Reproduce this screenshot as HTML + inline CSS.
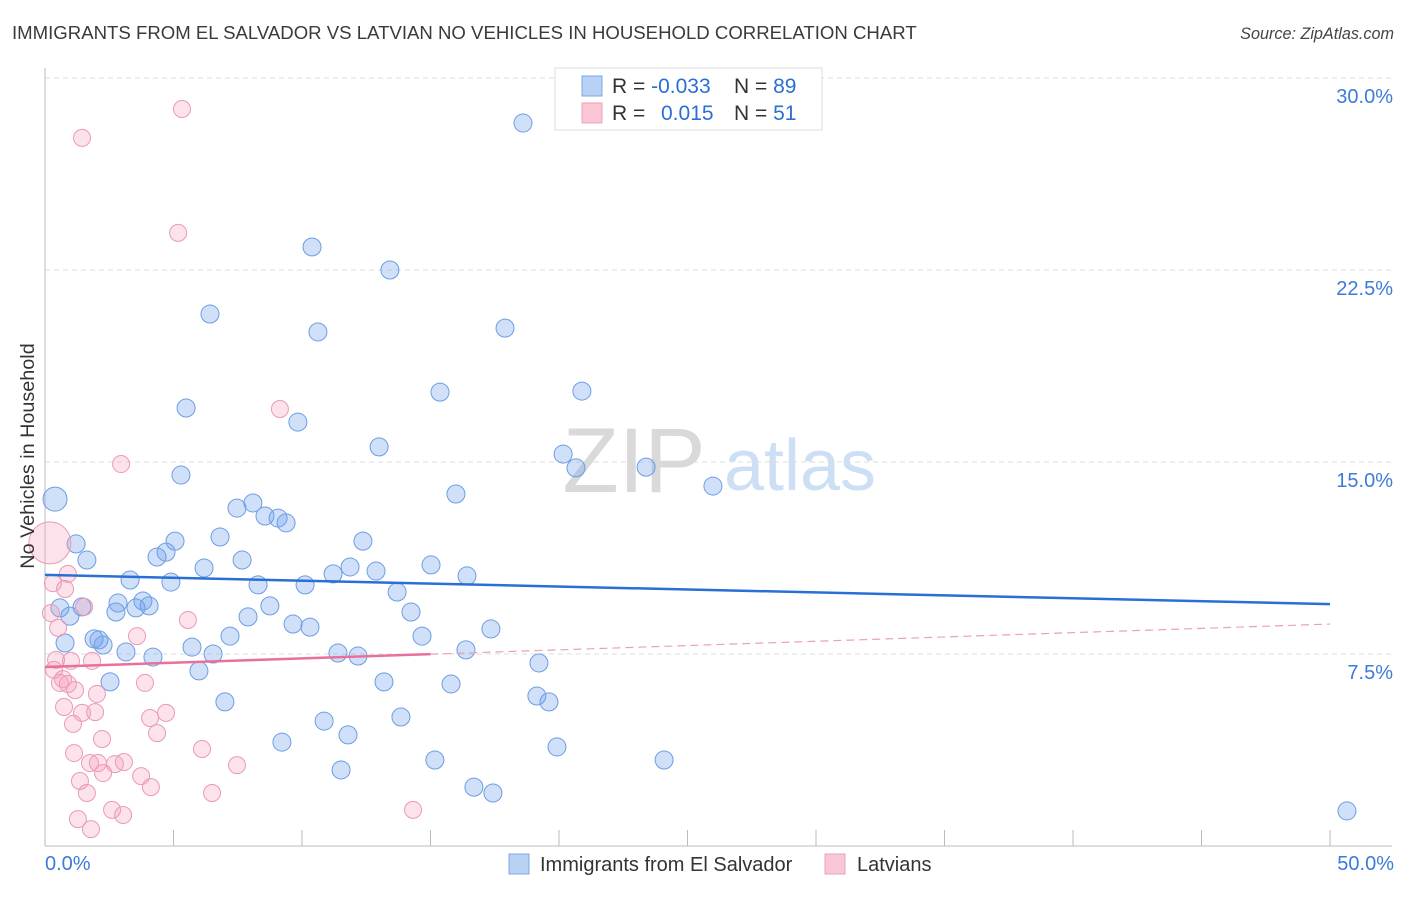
<!DOCTYPE html>
<html><head><meta charset="utf-8"><style>
body{margin:0;background:#fff;font-family:"Liberation Sans",sans-serif;}
svg text{font-family:"Liberation Sans",sans-serif;}
</style></head><body>
<svg id="chart" width="1406" height="892" xmlns="http://www.w3.org/2000/svg">
<text x="12" y="39" font-size="18.6" fill="#3a3a3a">IMMIGRANTS FROM EL SALVADOR VS LATVIAN NO VEHICLES IN HOUSEHOLD CORRELATION CHART</text>
<text x="1394" y="39" font-size="16.2" fill="#444" text-anchor="end" font-style="italic">Source: ZipAtlas.com</text>
<g>
<text x="634" y="492" font-size="92" fill="#d9d9d9" font-family="Liberation Serif" text-anchor="middle">ZIP</text>
<text x="800" y="490" font-size="72" fill="#cddff5" text-anchor="middle">atlas</text>
</g>
<g id="grid"></g>
<g id="axes"></g>
<g id="pts"></g>
<g id="trends"></g>
<text transform="translate(34,456) rotate(-90)" font-size="19.8" fill="#333" text-anchor="middle">No Vehicles in Household</text>
<g>
<rect x="555" y="68" width="267" height="62" fill="#fff" stroke="#ddd"/>
<rect x="582" y="76" width="20" height="20" fill="#b8d2f5" stroke="#7fa8e4"/>
<rect x="582" y="103" width="20" height="20" fill="#f9c6d5" stroke="#eca0b8"/>
<text x="612" y="93" font-size="21" fill="#333">R = <tspan fill="#2a6fd6">-0.033</tspan></text>
<text x="734" y="93" font-size="21" fill="#333">N = <tspan fill="#2a6fd6">89</tspan></text>
<text x="612" y="120" font-size="21" fill="#333">R = </text>
<text x="661" y="120" font-size="21" fill="#2a6fd6">0.015</text>
<text x="734" y="120" font-size="21" fill="#333">N = <tspan fill="#2a6fd6"> 51</tspan></text>
</g>
<g>
<rect x="509" y="854" width="20" height="20" fill="#b8d2f5" stroke="#7fa8e4"/>
<text x="540" y="871" font-size="20" fill="#333">Immigrants from El Salvador</text>
<rect x="825" y="854" width="20" height="20" fill="#f9c6d5" stroke="#eca0b8"/>
<text x="857" y="871" font-size="20" fill="#333">Latvians</text>
</g>
</svg>
<script>
const yTicks=[7.5,15,22.5,30];
const yTickLabels=["7.5%","15.0%","22.5%","30.0%"];
const xTickLabels=["0.0%","50.0%"];
const blueX=[18.6,10.39,13.42,6.42,17.9,10.62,20.89,15.37,5.49,9.84,13.0,20.16,20.66,23.39,5.29,25.99,15.99,0.39,8.09,7.47,8.56,9.07,9.38,6.81,5.06,12.37,1.21,4.71,4.36,1.63,7.67,15.02,6.19,11.87,12.88,11.21,16.42,3.31,4.9,8.29,10.12,13.7,2.84,3.81,4.05,0.58,1.44,0.97,2.76,3.54,8.75,14.24,7.9,9.65,10.31,17.35,7.2,14.67,1.91,2.1,0.78,2.26,5.72,16.38,3.15,6.54,11.4,12.18,4.2,19.22,5.99,2.53,13.19,15.8,19.14,19.61,7.0,13.85,10.86,11.79,19.92,9.22,15.17,24.09,11.52,16.69,17.43,50.66];
const blueY=[28.24,23.4,22.5,20.78,20.23,20.08,17.77,17.73,17.11,16.56,15.59,15.31,14.77,14.8,14.49,14.06,13.75,13.55,13.4,13.2,12.89,12.81,12.62,12.07,11.91,11.91,11.8,11.48,11.29,11.17,11.17,10.98,10.86,10.9,10.74,10.63,10.55,10.39,10.31,10.2,10.2,9.92,9.49,9.57,9.38,9.3,9.34,8.98,9.14,9.3,9.38,9.14,8.95,8.67,8.55,8.48,8.2,8.2,8.09,8.05,7.93,7.85,7.77,7.66,7.58,7.5,7.54,7.42,7.38,7.15,6.84,6.41,6.41,6.33,5.86,5.63,5.63,5.04,4.88,4.34,3.87,4.06,3.36,3.36,2.97,2.3,2.07,1.37];
const blueBig=[17];
const pinkX=[5.33,1.44,5.18,9.14,2.96,0.19,0.89,0.31,0.78,1.52,0.23,0.51,5.56,3.58,0.43,1.01,1.83,0.35,0.7,0.58,0.89,1.17,3.89,2.02,1.95,0.74,1.44,4.09,4.71,1.09,4.36,6.11,1.13,2.22,7.47,1.75,2.06,2.72,3.07,2.26,1.36,3.74,6.5,1.63,4.12,2.61,3.04,14.32,1.28,1.79];
const pinkY=[28.79,27.66,23.95,17.07,14.92,11.84,10.63,10.27,10.04,9.34,9.1,8.52,8.83,8.2,7.27,7.23,7.23,6.88,6.52,6.37,6.33,6.09,6.37,5.94,5.23,5.43,5.2,5.0,5.2,4.77,4.41,3.79,3.63,4.18,3.16,3.24,3.24,3.2,3.28,2.85,2.54,2.73,2.07,2.07,2.3,1.41,1.21,1.41,1.05,0.66];
const pinkBig=[5];
const blueTrend=[10.59,9.45];
const pinkTrend=[6.99,8.67];
const pinkSolidEnd=15;

const NS="http://www.w3.org/2000/svg";
const X0=45,X1=1330,Yb=846;
const xs=v=>X0+(v/50)*(X1-X0);
const ys=v=>Yb-v*25.6;
function mk(tag,attrs,parent){const e=document.createElementNS(NS,tag);for(const k in attrs)e.setAttribute(k,attrs[k]);parent.appendChild(e);return e;}
const grid=document.getElementById('grid'),axes=document.getElementById('axes'),pts=document.getElementById('pts'),tr=document.getElementById('trends');
yTicks.forEach((t,i)=>{
 const l=mk('line',{x1:45,x2:1392,y1:ys(t),y2:ys(t),stroke:'#dcdcdc','stroke-dasharray':'5,4'},grid);
 
 
 const tx=mk('text',{x:1393,y:ys(t)+25,'font-size':20,fill:'#3d7bd9','text-anchor':'end'},grid);
 tx.textContent=yTickLabels[i];
 
 
});
const ya=mk('line',{x1:45,x2:45,y1:68,y2:846,stroke:'#bbb'},axes);


const xa=mk('line',{x1:45,x2:1392,y1:846,y2:846,stroke:'#bbb'},axes);


for(let k=1;k<=10;k++){
 const t=mk('line',{x1:xs(k*5),x2:xs(k*5),y1:830,y2:846,stroke:'#bbb'},axes);
 
 
}
[[0,'start',45],[50,'end',1394]].forEach((d,i)=>{
 const tx=mk('text',{x:d[2],y:870,'font-size':20,fill:'#3d7bd9','text-anchor':d[1]},axes);
 tx.textContent=xTickLabels[i];
 
 
});
blueX.forEach((v,i)=>{
 const c=mk('circle',{cx:xs(v),cy:ys(blueY[i]),r:blueBig.includes(i)?12:9,fill:'rgba(110,160,235,0.32)',stroke:'#6d9de3','stroke-width':1},pts);
 
 
});
pinkX.forEach((v,i)=>{
 const c=mk('circle',{cx:xs(v),cy:ys(pinkY[i]),r:pinkBig.includes(i)?21:8.5,fill:'rgba(245,160,185,0.3)',stroke:'#eb9ab3','stroke-width':1},pts);
 
 
});
const bt=mk('line',{x1:xs(0),y1:ys(blueTrend[0]),x2:xs(50),y2:ys(blueTrend[1]),stroke:'#2a6fd6','stroke-width':2.5},tr);


const pAt=x=>pinkTrend[0]+(pinkTrend[1]-pinkTrend[0])*x/50;
const pt=mk('line',{x1:xs(0),y1:ys(pinkTrend[0]),x2:xs(pinkSolidEnd),y2:ys(pAt(pinkSolidEnd)),stroke:'#e8709a','stroke-width':2.5},tr);


const pd=mk('line',{x1:xs(pinkSolidEnd),y1:ys(pAt(pinkSolidEnd)),x2:xs(50),y2:ys(pinkTrend[1]),stroke:'#eba0b8','stroke-width':1.2,'stroke-dasharray':'8,5'},tr);


</script>
</body></html>
